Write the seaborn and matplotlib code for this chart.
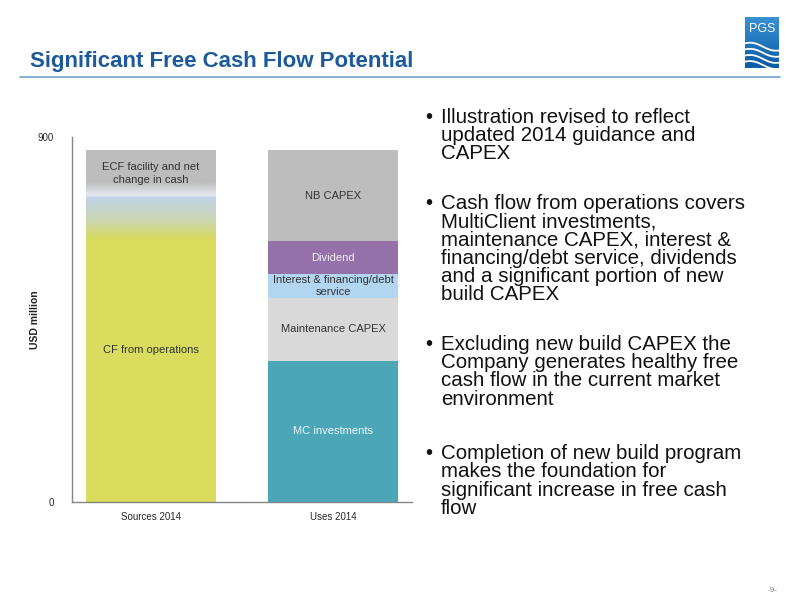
import numpy as np
import pandas as pd
import matplotlib.pyplot as plt
import seaborn as sns
from matplotlib.lines import Line2D
from matplotlib.colors import to_rgb

# 数据
bars = ['Sources 2014', 'Uses 2014']

sources_labels = ['CF from operations', 'ECF facility and net\nchange in cash']
sources_values = [752, 116]
sources_colors = ['#d9dc5c', '#bdbdbd']
sources_text = ['#333333', '#333333']

uses_labels = ['MC investments', 'Maintenance CAPEX',
               'Interest & financing/debt\nservice', 'Dividend', 'NB CAPEX']
uses_values = [348, 155, 59, 81, 225]
uses_colors = ['#4ba6b8', '#d9d9d9', '#b3d6f0', '#9670a8', '#bdbdbd']
uses_text = ['#eef7fa', '#333333', '#333333', '#f4eef7', '#333333']

bullets = [
    "Illustration revised to reflect\nupdated 2014 guidance and\nCAPEX",
    "Cash flow from operations covers\nMultiClient investments,\nmaintenance CAPEX, interest &\n"
    "financing/debt service, dividends\nand a significant portion of new\nbuild CAPEX",
    "Excluding new build CAPEX the\nCompany generates healthy free\ncash flow in the current market\nenvironment",
    "Completion of new build program\nmakes the foundation for\nsignificant increase in free cash\nflow",
]

rows = []
for lab, v, c, t in zip(sources_labels, sources_values, sources_colors, sources_text):
    rows.append(dict(bar=bars[0], segment=lab, value=v, color=c, tcolor=t))
for lab, v, c, t in zip(uses_labels, uses_values, uses_colors, uses_text):
    rows.append(dict(bar=bars[1], segment=lab, value=v, color=c, tcolor=t))
df = pd.DataFrame(rows)
df['top'] = df.groupby('bar')['value'].cumsum()
df['bottom'] = df['top'] - df['value']

sns.set_style('white')
plt.rcParams['font.family'] = ['Liberation Sans', 'DejaVu Sans']

fig = plt.figure(figsize=(8, 6), dpi=100)
ax = fig.add_axes([72 / 800, 98 / 600, 340 / 800, 365 / 600])

# 叠加法画堆积柱：先画累计值大的
patches = {}
for _, r in df.sort_values('top', ascending=False).iterrows():
    sns.barplot(x=[r['bar']], y=[r['top']], order=bars, color=r['color'],
                saturation=1, width=0.714, errorbar=None, linewidth=0, ax=ax)
    patches[r['segment']] = ax.patches[-1]

# Sources 柱的渐变过渡
src = df[df['bar'] == bars[0]]
b = src['top'].iloc[0]
total = src['top'].iloc[-1]
p = patches[sources_labels[-1]]
stops_v = [b - 106, b - 60, b, b + 0.01, b + 10, b + 34, total]
stops_c = ['#d9dc5c', '#cbd6ae', '#c0d3e9', '#e3e7ef', '#dde0e6', '#bdbdbd', '#bdbdbd']
yy = np.linspace(stops_v[0], total, 400)
rgb = np.array([to_rgb(c) for c in stops_c])
img = np.stack([np.interp(yy, stops_v, rgb[:, k]) for k in range(3)], axis=-1)[:, None, :]
im = ax.imshow(img, origin='lower', aspect='auto', interpolation='bilinear',
               extent=[p.get_x(), p.get_x() + p.get_width(), stops_v[0], total], zorder=1.5)
im.set_clip_path(p)

for _, r in df.iterrows():
    ax.text(bars.index(r['bar']), (r['bottom'] + r['top']) / 2, r['segment'],
            ha='center', va='center', fontsize=8, color=r['tcolor'], zorder=3,
            linespacing=1.35)

ax.set_xlim(-0.434, 1.434)
ax.set_ylim(0, 900)
ax.set_yticks([0, 900])
ax.set_xlabel('')
ax.set_ylabel('USD million', fontsize=7.5, fontweight='bold', color='#222222')
ax.yaxis.set_label_coords(-0.093, 0.5)
sns.despine(ax=ax)
for s in ['left', 'bottom']:
    ax.spines[s].set_color('#858585')
    ax.spines[s].set_linewidth(1)
ax.tick_params(axis='y', direction='out', length=4, color='#858585', labelsize=7, pad=9)
ax.tick_params(axis='x', length=0, labelsize=7, pad=7)

# 标题与装饰
fig.text(30 / 800, 1 - 62 / 600, 'Significant Free Cash Flow Potential',
         fontsize=16, fontweight='bold', color='#1c5a9c', va='center')
fig.add_artist(Line2D([20 / 800, 780 / 800], [1 - 77 / 600] * 2, color='#6fa1d4', lw=1.2))
fig.text(773 / 800, 1 - 590 / 600, '-9-', fontsize=6, color='#888888', ha='center', va='center')

# 要点
tops = [108, 194, 335, 444]
for t, txt in zip(tops, bullets):
    fig.text(425 / 800, 1 - t / 600, '\u2022', fontsize=14.8, va='top', color='#111111')
    fig.text(441 / 800, 1 - t / 600, txt, fontsize=14.8, va='top', color='#111111',
             linespacing=0.95)

# PGS 标志
lax = fig.add_axes([745 / 800, 1 - 68 / 600, 34 / 800, 51 / 600])
grad = np.linspace(0, 1, 100)[:, None]
lax.imshow(grad, cmap=sns.blend_palette(['#0b5aa6', '#3a92d2'], as_cmap=True),
           extent=[0, 1, 0, 1], aspect='auto', origin='lower')
lax.text(0.5, 0.76, 'PGS', color='white', fontsize=9, ha='center', va='center')
xs = np.linspace(0, 1, 50)
for k in range(4):
    lax.plot(xs, 0.46 - k * 0.12 + 0.05 * np.sin(xs * 5 + 0.5) - 0.08 * xs, color='white', lw=1.3)
lax.fill_between(xs, -0.05, 0.06 - 0.12 + 0.05 * np.sin(xs * 5 + 0.5) - 0.08 * xs + 0.12 * xs,
                 color='white')
lax.set_xlim(0, 1)
lax.set_ylim(0, 1)
lax.axis('off')

plt.savefig('out.png', dpi=100)
